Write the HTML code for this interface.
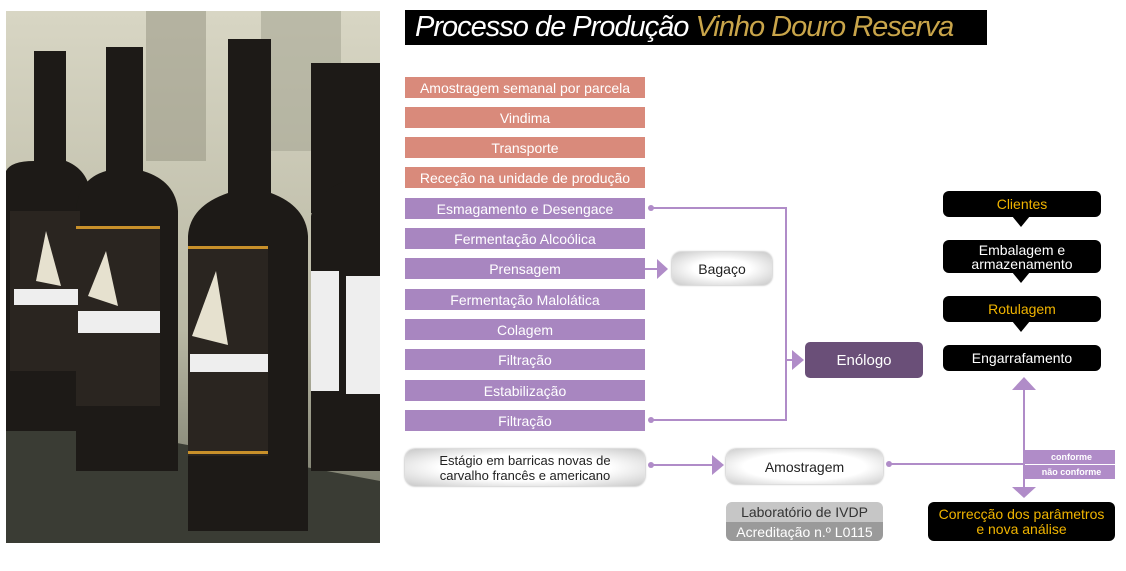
<!DOCTYPE html>
<html><head><meta charset="utf-8"><style>
body{margin:0;width:1126px;height:571px;background:#fff;position:relative;overflow:hidden;font-family:"Liberation Sans",sans-serif;}
.a{position:absolute;box-sizing:border-box;display:flex;align-items:center;justify-content:center;text-align:center;}
.s{left:405px;width:240px;height:21px;color:#fff;font-size:14px;}
.r{background:#d98a7b}.p{background:#a886c0}
.k{background:#000;border-radius:6px;left:943px;width:158px;font-size:14px;color:#fff;line-height:14px}
.g{color:#f0b400}
</style></head><body>
<svg style="position:absolute;left:6px;top:11px" width="374" height="532" viewBox="0 0 374 532">
<defs><linearGradient id="bg" x1="0" y1="0" x2="0" y2="1"><stop offset="0" stop-color="#d8d6c4"/><stop offset="0.6" stop-color="#b9b8a4"/><stop offset="1" stop-color="#6c6e60"/></linearGradient></defs>
<rect width="374" height="532" fill="url(#bg)"/>
<rect x="140" y="0" width="60" height="150" fill="#9c9b88" opacity=".6"/>
<rect x="255" y="0" width="80" height="140" fill="#a7a795" opacity=".6"/>
<polygon points="0,400 374,470 374,532 0,532" fill="#3a3c34"/>
<g fill="#1d1a17">
<rect x="28" y="40" width="32" height="120"/><path d="M0,160 Q5,150 28,150 L60,150 Q85,160 85,190 L85,420 L0,420Z"/>
<rect x="100" y="36" width="37" height="130"/><path d="M70,200 Q72,168 100,160 L137,160 Q170,170 172,200 L172,460 L70,460Z"/>
<rect x="305" y="52" width="69" height="150"/><path d="M305,205 Q310,180 340,170 L374,170 L374,460 L305,460Z"/>
<rect x="222" y="28" width="43" height="160"/><path d="M182,225 Q184,195 222,182 L265,182 Q300,195 302,225 L302,520 L182,520Z"/>
</g>
<g fill="#2a2520"><rect x="4" y="200" width="70" height="160"/><rect x="70" y="215" width="84" height="180"/><rect x="182" y="235" width="80" height="210"/></g>
<g fill="#eee"><rect x="8" y="278" width="64" height="16"/><rect x="72" y="300" width="82" height="22"/><rect x="184" y="343" width="78" height="18"/><rect x="305" y="260" width="28" height="120"/><rect x="340" y="265" width="34" height="118"/></g>
<g fill="#e6e1cf"><polygon points="40,220 55,275 30,270"/><polygon points="100,240 112,295 82,285"/><polygon points="210,260 222,334 186,325"/></g>
<g fill="#c8902a"><rect x="70" y="215" width="84" height="3"/><rect x="182" y="235" width="80" height="3"/><rect x="182" y="440" width="80" height="3"/></g>
</svg>
<div class="a" style="left:405px;top:10px;width:582px;height:35px;background:#000;justify-content:flex-start;padding-left:10px;font-style:italic;font-size:29px;letter-spacing:-1px;color:#fff">Processo de Produção&nbsp;<span style="color:#c9a54a">Vinho Douro Reserva</span></div>
<div class="a s r" style="top:77px">Amostragem semanal por parcela</div>
<div class="a s r" style="top:107px">Vindima</div>
<div class="a s r" style="top:137px">Transporte</div>
<div class="a s r" style="top:167px">Receção na unidade de produção</div>
<div class="a s p" style="top:198px">Esmagamento e Desengace</div>
<div class="a s p" style="top:228px">Fermentação Alcoólica</div>
<div class="a s p" style="top:258px">Prensagem</div>
<div class="a s p" style="top:289px">Fermentação Malolática</div>
<div class="a s p" style="top:319px">Colagem</div>
<div class="a s p" style="top:349px">Filtração</div>
<div class="a s p" style="top:380px">Estabilização</div>
<div class="a s p" style="top:410px">Filtração</div>
<svg style="position:absolute;left:0;top:0" width="1126" height="571">
<g stroke="#b08cc8" stroke-width="2" fill="none">
<polyline points="651,208 786,208 786,420 651,420"/>
<line x1="645" y1="269" x2="660" y2="269"/>
<line x1="786" y1="360" x2="795" y2="360"/>
<line x1="651" y1="465" x2="712" y2="465"/>
<line x1="889" y1="464" x2="1024" y2="464"/>
<line x1="1024" y1="388" x2="1024" y2="488"/>
</g>
<g fill="#b08cc8">
<circle cx="651" cy="208" r="3"/><circle cx="651" cy="420" r="3"/><circle cx="651" cy="465" r="3"/><circle cx="889" cy="464" r="3"/>
<polygon points="657,259 668,269 657,279"/><polygon points="792,350 804,360 792,370"/><polygon points="712,455 724,465 712,475"/>
<polygon points="1012,390 1024,377 1036,390"/><polygon points="1012,487 1024,498 1036,487"/>
</g>
<g fill="#000"><polygon points="1012,216 1021,227 1030,216"/><polygon points="1012,272 1021,283 1030,272"/><polygon points="1012,321 1021,332 1030,321"/></g>
</svg>
<div class="a" style="left:672px;top:252px;width:100px;height:33px;border-radius:9px;background:radial-gradient(ellipse at center,#fff 40%,#c8c8c8);box-shadow:0 0 2px #999;font-size:14px;color:#222">Bagaço</div>
<div class="a" style="left:805px;top:342px;width:118px;height:36px;border-radius:5px;background:#6a4f78;color:#fff;font-size:15px">Enólogo</div>
<div class="a k g" style="top:191px;height:26px">Clientes</div>
<div class="a k" style="top:240px;height:33px">Embalagem e<br>armazenamento</div>
<div class="a k g" style="top:296px;height:26px">Rotulagem</div>
<div class="a k" style="top:345px;height:26px">Engarrafamento</div>
<div class="a" style="left:1025px;top:450px;width:90px;height:14px;background:#b08cc8;color:#fff;font-size:9px;font-weight:bold;padding-left:3px">conforme</div>
<div class="a" style="left:1025px;top:465px;width:90px;height:14px;background:#b08cc8;color:#fff;font-size:9px;font-weight:bold;padding-left:3px">não conforme</div>
<div class="a" style="left:928px;top:502px;width:187px;height:39px;border-radius:6px;background:#000;color:#f0b400;font-size:14px;line-height:15px">Correcção dos parâmetros<br>e nova análise</div>
<div class="a" style="left:405px;top:449px;width:240px;height:37px;border-radius:10px;background:radial-gradient(ellipse at center,#fff 50%,#c8c8c8);box-shadow:0 0 2px #999;font-size:13px;line-height:15px;color:#222">Estágio em barricas novas de<br>carvalho francês e americano</div>
<div class="a" style="left:726px;top:449px;width:157px;height:35px;border-radius:10px;background:radial-gradient(ellipse at center,#fff 55%,#ccc);box-shadow:0 0 2px #999;font-size:14px;color:#222">Amostragem</div>
<div class="a" style="left:726px;top:502px;width:157px;height:20px;border-radius:6px 6px 0 0;background:#c6c6c6;color:#333;font-size:14px">Laboratório de IVDP</div>
<div class="a" style="left:726px;top:522px;width:157px;height:19px;border-radius:0 0 6px 6px;background:#9a9a9a;color:#fff;font-size:14px">Acreditação n.º L0115</div>
</body></html>
